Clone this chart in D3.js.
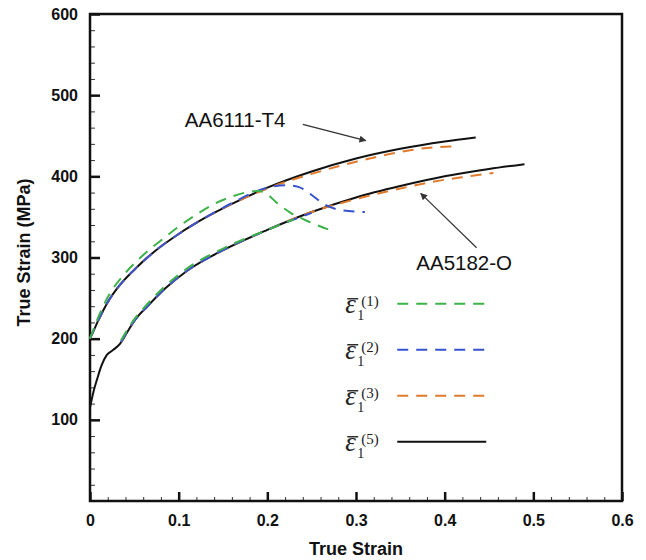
<!DOCTYPE html>
<html>
<head>
<meta charset="utf-8">
<script src="https://d3js.org/d3.v7.min.js"></script>
<style>
  body { margin: 0; background: #fff; }
  .tick text { font-family: "Liberation Sans", Arial, sans-serif; font-weight: bold; font-size: 16px; fill: #111; }
</style>
</head>
<body>
<div id="chart"></div>
<script type="text/javascript">
// AA6111-T4 (upper group)
var strainA6 = [0, 0.005, 0.01, 0.02, 0.03, 0.05, 0.07, 0.1, 0.13, 0.16, 0.2, 0.25, 0.3, 0.35, 0.4, 0.435];
var stressA6 = [200, 212, 224, 245, 261, 285, 305, 329, 349, 366, 386, 406, 422, 434, 443, 448];
var strainA6e3 = [0, 0.01, 0.02, 0.03, 0.05, 0.07, 0.1, 0.13, 0.16, 0.2, 0.25, 0.3, 0.35, 0.38, 0.41];
var stressA6e3 = [200, 224, 245, 261, 285, 305, 329, 349, 366, 385, 403, 418, 430, 435, 437];
var strainA6e2 = [0, 0.01, 0.02, 0.03, 0.05, 0.07, 0.1, 0.13, 0.16, 0.2, 0.22, 0.235, 0.25, 0.265, 0.28, 0.31];
var stressA6e2 = [200, 224, 245, 261, 285, 305, 329, 349, 367, 386, 389, 387, 377, 365, 359, 356];
var strainA6e1 = [0, 0.01, 0.02, 0.04, 0.06, 0.08, 0.1, 0.12, 0.14, 0.16, 0.18, 0.19, 0.2, 0.21, 0.225, 0.245, 0.27];
var stressA6e1 = [200, 228, 251, 281, 303, 321, 338, 353, 366, 375, 381, 382, 378, 368, 356, 345, 334];

// AA5182-O (lower group)
var strainA5 = [0, 0.004, 0.008, 0.013, 0.019, 0.026, 0.034, 0.042, 0.05, 0.065, 0.085, 0.11, 0.15, 0.2, 0.25, 0.3, 0.35, 0.4, 0.45, 0.49];
var stressA5 = [115, 135, 150, 167, 180, 186, 194, 208, 222, 240, 262, 284, 309, 334, 356, 374, 388, 400, 409, 415];
var strainA5e3 = [0.035, 0.05, 0.065, 0.085, 0.11, 0.15, 0.2, 0.25, 0.3, 0.35, 0.39, 0.42, 0.455];
var stressA5e3 = [196, 222, 240, 262, 284, 309, 334, 356, 372, 385, 394, 399, 404];
var strainA5e2 = [0.035, 0.05, 0.065, 0.085, 0.11, 0.15, 0.2, 0.25];
var stressA5e2 = [196, 222, 240, 262, 284, 309, 334, 355];
var strainA5e1 = [0.035, 0.05, 0.065, 0.085, 0.11, 0.15, 0.2, 0.23];
var stressA5e1 = [198, 224, 243, 265, 287, 311, 334, 347];

var xTicks = [0, 0.1, 0.2, 0.3, 0.4, 0.5, 0.6];
var yTicks = [100, 200, 300, 400, 500, 600];
var legendLabels = ["(1)", "(2)", "(3)", "(5)"];

var colGreen = "#3db24a", colBlue = "#3553cf", colOrange = "#e07a2c", colBlack = "#111";

// set the dimensions and margins of the graph
var margin = {top: 14, right: 24, bottom: 59, left: 90},
    width = 646 - margin.left - margin.right,
    height = 560 - margin.top - margin.bottom;

var x = d3.scaleLinear().domain([0, 0.6]).range([0, width]);
var y = d3.scaleLinear().domain([0, 600]).range([height, 0]);

var svg = d3.select("#chart").append("svg")
    .attr("width", 646)
    .attr("height", 560)
  .append("g")
    .attr("transform", "translate(" + margin.left + "," + margin.top + ")");

var valueline = d3.line()
    .x(function(d) { return x(d[0]); })
    .y(function(d) { return y(d[1]); })
    .curve(d3.curveMonotoneX);

// minor ticks
svg.append("g")
    .attr("transform", "translate(0," + height + ")")
    .call(d3.axisBottom(x).tickValues(d3.range(0, 0.6001, 0.02)).tickSize(-4).tickFormat(""))
    .call(function(g) { g.select(".domain").remove(); g.selectAll("line").attr("stroke", "#333"); });
svg.append("g")
    .call(d3.axisLeft(y).tickValues(d3.range(0, 601, 20)).tickSize(-5).tickFormat(""))
    .call(function(g) { g.select(".domain").remove(); g.selectAll("line").attr("stroke", "#333"); });

// major ticks + labels
svg.append("g")
    .attr("transform", "translate(0," + height + ")")
    .call(d3.axisBottom(x).tickValues(xTicks).tickSize(-9).tickPadding(10).tickFormat(d3.format("")))
    .call(function(g) {
      g.select(".domain").remove();
      g.selectAll("line").attr("stroke", "#111").attr("stroke-width", 2.5);
      g.selectAll("text").attr("dy", "0.95em");
    });
svg.append("g")
    .call(d3.axisLeft(y).tickValues(yTicks).tickSize(-10).tickPadding(12).tickFormat(d3.format("")))
    .call(function(g) {
      g.select(".domain").remove();
      g.selectAll("line").attr("stroke", "#111").attr("stroke-width", 2.5);
    });

// frame
svg.append("rect")
    .attr("width", width).attr("height", height)
    .attr("fill", "none").attr("stroke", "#111").attr("stroke-width", 2.5);

function pairs(a, b) { return a.map(function(v, i) { return [v, b[i]]; }); }

var series = [
  {data: pairs(strainA6, stressA6), color: colBlack, dash: null},
  {data: pairs(strainA5, stressA5), color: colBlack, dash: null},
  {data: pairs(strainA6e3, stressA6e3), color: colOrange, dash: "11,8"},
  {data: pairs(strainA5e3, stressA5e3), color: colOrange, dash: "11,8"},
  {data: pairs(strainA6e2, stressA6e2), color: colBlue, dash: "11,8"},
  {data: pairs(strainA5e2, stressA5e2), color: colBlue, dash: "11,8"},
  {data: pairs(strainA6e1, stressA6e1), color: colGreen, dash: "11,8"},
  {data: pairs(strainA5e1, stressA5e1), color: colGreen, dash: "11,8"}
];

series.forEach(function(s) {
  svg.append("path")
      .datum(s.data)
      .attr("fill", "none")
      .attr("stroke", s.color)
      .attr("stroke-width", 2)
      .attr("stroke-dasharray", s.dash)
      .attr("d", valueline);
});

// annotations with arrows
svg.append("defs").append("marker")
    .attr("id", "arr").attr("viewBox", "0 0 10 10")
    .attr("refX", 9).attr("refY", 5)
    .attr("markerWidth", 10).attr("markerHeight", 7)
    .attr("markerUnits", "userSpaceOnUse")
    .attr("orient", "auto")
  .append("path").attr("d", "M0,0L10,5L0,10z").attr("fill", "#333");

svg.append("text")
    .attr("x", x(0.107)).attr("y", y(461))
    .attr("font-family", "Liberation Sans, Arial, sans-serif")
    .attr("font-size", 20.5).attr("fill", "#111")
    .text("AA6111-T4");
svg.append("line")
    .attr("x1", x(0.24)).attr("y1", y(464))
    .attr("x2", x(0.311)).attr("y2", y(444))
    .attr("stroke", "#333").attr("stroke-width", 1.2)
    .attr("marker-end", "url(#arr)");

svg.append("text")
    .attr("x", x(0.422)).attr("y", y(284))
    .attr("text-anchor", "middle")
    .attr("font-family", "Liberation Sans, Arial, sans-serif")
    .attr("font-size", 20.5).attr("fill", "#111")
    .text("AA5182-O");
svg.append("line")
    .attr("x1", x(0.436)).attr("y1", y(312))
    .attr("x2", x(0.373)).attr("y2", y(379))
    .attr("stroke", "#333").attr("stroke-width", 1.2)
    .attr("marker-end", "url(#arr)");

// legend
var legendColors = [colGreen, colBlue, colOrange, colBlack];
var legendDash = ["11,8", "11,8", "11,8", null];
var lg = svg.append("g").attr("transform", "translate(" + (x(0.289)) + "," + (y(243)) + ")");
legendLabels.forEach(function(lab, i) {
  var row = lg.append("g").attr("transform", "translate(0," + (i * 46) + ")");
  row.append("text")
      .attr("x", -1).attr("y", 9)
      .attr("font-family", "Liberation Serif, serif")
      .attr("font-style", "italic")
      .attr("font-size", 27).attr("fill", "#222")
      .text("ε");
  row.append("line")
      .attr("x1", 1).attr("x2", 12).attr("y1", -5).attr("y2", -5)
      .attr("stroke", "#222").attr("stroke-width", 1.4);
  row.append("text")
      .attr("x", 11).attr("y", 16)
      .attr("font-family", "Liberation Serif, serif")
      .attr("font-size", 14).attr("fill", "#222")
      .text("1");
  row.append("text")
      .attr("x", 15).attr("y", 2)
      .attr("font-family", "Liberation Serif, serif")
      .attr("font-size", 15).attr("fill", "#222")
      .text(lab);
  row.append("line")
      .attr("x1", 51).attr("x2", 140).attr("y1", 0).attr("y2", 0)
      .attr("stroke", legendColors[i]).attr("stroke-width", 2)
      .attr("stroke-dasharray", legendDash[i]);
});

// axis titles
svg.append("text")
    .attr("x", width / 2).attr("y", height + 54)
    .attr("text-anchor", "middle")
    .attr("font-family", "Liberation Sans, Arial, sans-serif")
    .attr("font-weight", "bold").attr("font-size", 18).attr("fill", "#111")
    .text("True Strain");
svg.append("text")
    .attr("transform", "translate(" + (-60) + "," + (height / 2 - 5) + ") rotate(-90)")
    .attr("text-anchor", "middle")
    .attr("font-family", "Liberation Sans, Arial, sans-serif")
    .attr("font-weight", "bold").attr("font-size", 18).attr("fill", "#111")
    .text("True Strain (MPa)");
</script>
</body>
</html>
